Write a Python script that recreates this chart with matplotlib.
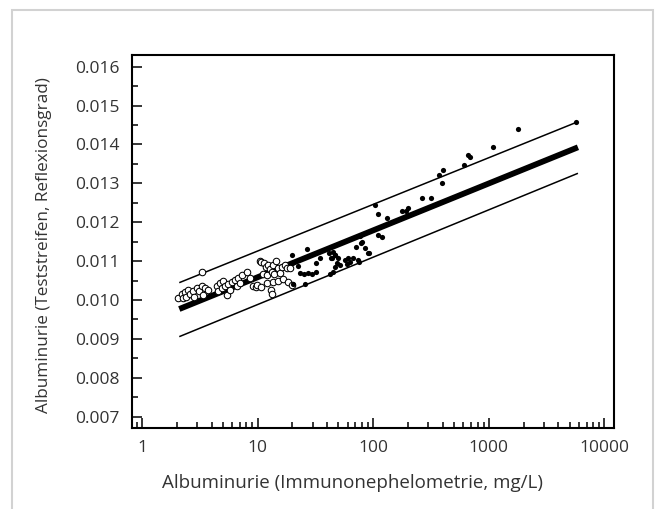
import numpy as np
import matplotlib
matplotlib.use("Agg")
import matplotlib.pyplot as plt
from matplotlib.patches import Rectangle
from matplotlib.ticker import LogLocator, FixedLocator, FixedFormatter, MultipleLocator, NullFormatter

plt.rcParams['font.family'] = ['Open Sans', 'DejaVu Sans']

# open circles: immunonephelometry (mg/L) vs test strip reflectance
open_x = [2.06, 2.20, 2.25, 2.35, 2.40, 2.52, 2.60, 2.74, 2.82, 2.97, 3.13, 3.28, 3.32,
          3.35, 3.51, 3.74, 4.43, 4.57, 4.73, 4.89, 5.05, 5.22, 5.40, 5.58, 5.78, 5.97,
          6.38, 6.59, 6.81, 7.05, 7.29, 8.03, 8.60, 9.1, 9.6, 9.95, 10.5, 10.8, 10.8,
          11.2, 11.4, 11.8, 12.1, 12.1, 12.4, 12.8, 13.0, 13.2, 13.2, 13.5, 13.6, 13.9,
          14.4, 15.0, 15.1, 15.6, 16.2, 16.7, 17.3, 18.1, 18.4, 19.1, 19.7]
open_y = [0.01006, 0.01015, 0.01005, 0.01020, 0.01009, 0.01026, 0.01015, 0.01023, 0.01009,
          0.01030, 0.01022, 0.01035, 0.01073, 0.01013, 0.01030, 0.01026, 0.01035, 0.01023,
          0.01043, 0.01030, 0.01049, 0.01035, 0.01012, 0.01041, 0.01026, 0.01047, 0.01052,
          0.01037, 0.01056, 0.01043, 0.01065, 0.01073, 0.01056, 0.01036, 0.01034, 0.01039,
          0.01101, 0.01099, 0.01034, 0.01067, 0.01096, 0.01086, 0.01065, 0.01043, 0.01090,
          0.01079, 0.01026, 0.01016, 0.01073, 0.01090, 0.01047, 0.01067, 0.01101, 0.01050,
          0.01082, 0.01069, 0.01086, 0.01054, 0.01090, 0.01083, 0.01047, 0.01082, 0.01039]

# filled dots
fill_x = [19.7, 20.1, 19.7, 22.2, 23.3, 25.4, 25.8, 26.9, 27.5, 29.4, 31.8, 32.3, 34.8,
          41.8, 42.6, 43.3, 43.8, 44.6, 45.2, 46.3, 46.7, 46.7, 48.3, 49.4, 51.6, 57.0,
          59.0, 60.9, 63.0, 67.3, 71.4, 74.3, 75.8, 78.0, 77.6, 79.5, 84.9, 90.1, 92.5,
          103.8, 110.9, 109.1, 118.6, 131.1, 176, 191, 199, 262, 315, 372, 397, 404,
          610, 665, 688, 1090, 1790, 5700]
fill_y = [0.01116, 0.01040, 0.01095, 0.01087, 0.01070, 0.01066, 0.01042, 0.01130, 0.01070,
          0.01067, 0.01096, 0.01072, 0.01108, 0.01121, 0.01066, 0.01109, 0.01107, 0.01073,
          0.01124, 0.01117, 0.01116, 0.01086, 0.01095, 0.01108, 0.01090, 0.01103, 0.01092,
          0.01107, 0.01097, 0.01107, 0.01137, 0.01103, 0.01099, 0.01146, 0.01164, 0.01149,
          0.01135, 0.01121, 0.01120, 0.01245, 0.01222, 0.01167, 0.01162, 0.01212, 0.01229,
          0.01228, 0.01237, 0.01262, 0.01262, 0.01322, 0.01302, 0.01335, 0.01347, 0.01373,
          0.01367, 0.01394, 0.01440, 0.01459]

# regression line and limits: y = a + b*log10(x)
line_x = [2.1, 5900]
fit_a, fit_b = 0.009380, 0.001206
upper_a, upper_b = 0.010060, 0.001200
lower_a, lower_b = 0.008666, 0.001218

x_ticks = [1, 10, 100, 1000, 10000]
x_labels = ['1', '10', '100', '1000', '10000']
y_ticks = [0.007, 0.008, 0.009, 0.010, 0.011, 0.012, 0.013, 0.014, 0.015, 0.016]
y_labels = ['0.007', '0.008', '0.009', '0.010', '0.011', '0.012', '0.013', '0.014', '0.015', '0.016']

W, H = 656, 509
fig = plt.figure(figsize=(W / 100, H / 100), dpi=100)
fig.patches.append(Rectangle((12 / W, -0.05), 641 / W, (H - 10) / H + 0.05,
                             transform=fig.transFigure, fill=False,
                             edgecolor='#d2d2d2', linewidth=1.5))

ax = fig.add_axes([132 / W, (H - 427.7) / H, (614 - 132) / W, (427.7 - 55) / H])

lx = np.array(line_x)
ax.plot(lx, fit_a + fit_b * np.log10(lx), color='black', lw=4.2, solid_capstyle='butt')
ax.plot(lx, upper_a + upper_b * np.log10(lx), color='black', lw=1.1, solid_capstyle='butt')
ax.plot(lx, lower_a + lower_b * np.log10(lx), color='black', lw=1.1, solid_capstyle='butt')

ax.scatter(open_x, open_y, s=22, facecolors='white', edgecolors='black', linewidths=0.75, zorder=3)
ax.scatter(fill_x, fill_y, s=14, color='black', linewidths=0, zorder=3)

ax.set_xscale('log')
ax.set_xlim(0.819, 12100)
ax.set_ylim(0.006717, 0.016301)

ax.xaxis.set_major_locator(FixedLocator(x_ticks))
ax.xaxis.set_major_formatter(FixedFormatter(x_labels))
ax.xaxis.set_minor_locator(LogLocator(base=10, subs=np.arange(2, 10), numticks=20))
ax.xaxis.set_minor_formatter(NullFormatter())
ax.yaxis.set_major_locator(FixedLocator(y_ticks))
ax.yaxis.set_major_formatter(FixedFormatter(y_labels))
ax.yaxis.set_minor_locator(MultipleLocator(0.0005))

ax.tick_params(which='both', direction='in', top=False, right=False, width=1.1,
               colors='black', labelcolor='#333333', labelsize=12.5)
ax.tick_params(axis='y', which='major', length=7, pad=9)
ax.tick_params(axis='y', which='minor', length=4)
ax.tick_params(axis='x', which='major', length=7, pad=9)
ax.tick_params(axis='x', which='minor', length=4)
for sp in ax.spines.values():
    sp.set_linewidth(1.5)

fig.text(352 / W, 1 - 483 / H, 'Albuminurie (Immunonephelometrie, mg/L)',
         ha='center', va='center', fontsize=13.5, color='#333333')
fig.text(44 / W, 1 - 245 / H, 'Albuminurie (Teststreifen, Reflexionsgrad)',
         ha='center', va='center', rotation=90, fontsize=12.3, color='#333333')

fig.savefig('out.png', dpi=100)
